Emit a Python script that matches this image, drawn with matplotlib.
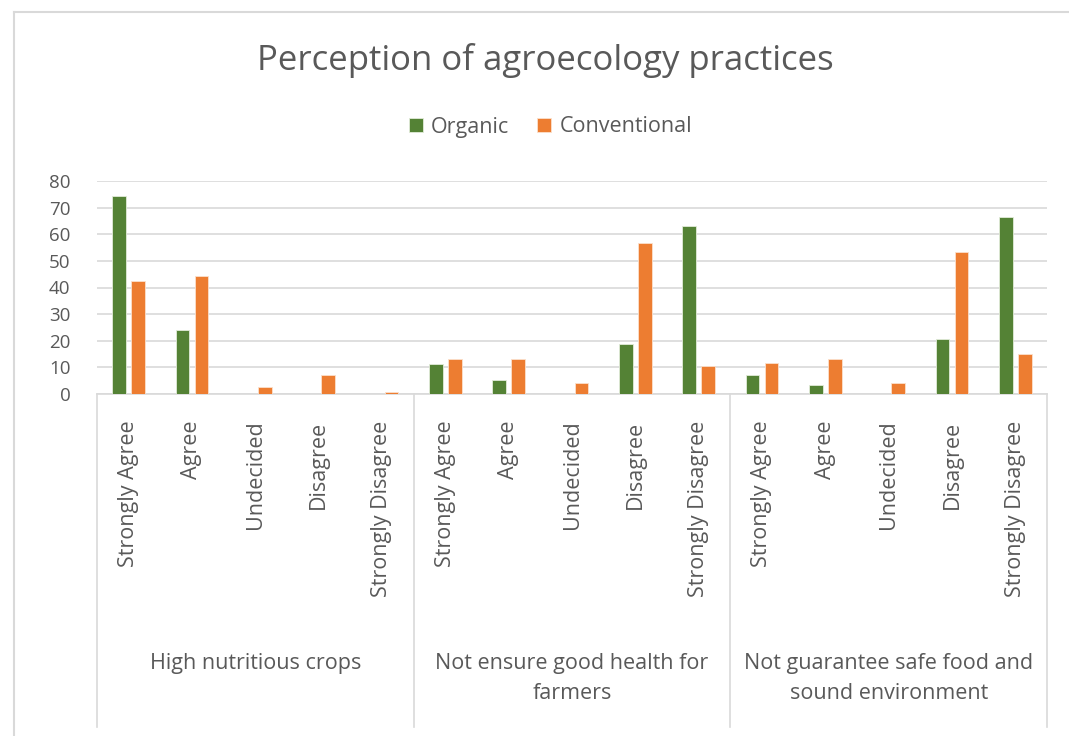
import numpy as np
import matplotlib.pyplot as plt
import matplotlib.transforms as mtransforms
from matplotlib.lines import Line2D

# Data
groups = ['High nutritious crops',
          'Not ensure good health for\nfarmers',
          'Not guarantee safe food and\nsound environment']
responses = ['Strongly Agree', 'Agree', 'Undecided', 'Disagree', 'Strongly Disagree']
organic = [74.3, 24.2, 0, 0, 0,
           11.1, 5.3, 0, 18.9, 63.2,
           7.2, 3.3, 0, 20.8, 66.5]
conventional = [42.3, 44.3, 2.6, 7.3, 0.8,
                13.1, 13.1, 4.0, 56.7, 10.5,
                11.7, 13.1, 4.0, 53.5, 15.1]

plt.rcParams['font.family'] = ['Open Sans', 'DejaVu Sans']
txt = '#595959'
green = '#548235'
orange = '#ED7D31'

fig = plt.figure(figsize=(10.69, 7.36), dpi=100)
ax = fig.add_axes([97 / 1069, 342 / 736, 950 / 1069, 213 / 736])

# chart-area border (cropped screenshot shows only top and left edges)
W, H = 1069, 736
fig.add_artist(Line2D([14 / W, 14 / W], [0, 1 - 12 / H], transform=fig.transFigure,
                      color='#d9d9d9', linewidth=1.5))
fig.add_artist(Line2D([14 / W, 1], [1 - 12 / H, 1 - 12 / H], transform=fig.transFigure,
                      color='#d9d9d9', linewidth=1.5))

x = np.arange(len(organic))
w = 0.22
ax.bar(x - 0.15, organic, w, color=green, edgecolor='#e2ecd9', linewidth=0.6, label='Organic', zorder=3)
ax.bar(x + 0.15, conventional, w, color=orange, edgecolor='#fbe0cc', linewidth=0.6, label='Conventional', zorder=3)

ax.set_xlim(-0.5, len(organic) - 0.5)
ax.set_ylim(0, 80)
ax.set_yticks(range(0, 81, 10))
ax.grid(axis='y', color='#d9d9d9', linewidth=1.2, zorder=0)
for s in ['top', 'right', 'left']:
    ax.spines[s].set_visible(False)
ax.spines['bottom'].set_color('#d9d9d9')
ax.spines['bottom'].set_linewidth(1.2)
ax.tick_params(axis='y', length=0, labelsize=13.5, labelcolor=txt, pad=19)
ax.set_xticks(x)
ax.set_xticklabels(responses * len(groups), rotation=90, fontsize=15.5, color=txt, va='top')
ax.tick_params(axis='x', length=0, pad=19)

# group separators and group labels below the axis
trans = mtransforms.blended_transform_factory(ax.transData, ax.transAxes)
n = len(responses)
for i in range(len(groups) + 1):
    ax.plot([i * n - 0.5, i * n - 0.5], [0, -1.563], transform=trans,
            color='#d9d9d9', linewidth=1.2, clip_on=False)
for i, g in enumerate(groups):
    ax.text(i * n + (n - 1) / 2, -1.215, g, transform=trans, ha='center', va='top',
            fontsize=15.5, color=txt, linespacing=1.6)

fig.text(0.510, 1 - 60 / 736, 'Perception of agroecology practices', ha='center', va='center',
         fontsize=25, color=txt)
fig.legend(loc='center', bbox_to_anchor=(0.515, 1 - 127 / 736), ncol=2, frameon=False,
           fontsize=15.5, labelcolor=txt, handlelength=0.65, handleheight=0.65,
           handletextpad=0.37, columnspacing=1.3)

fig.savefig('out.png', dpi=100)
